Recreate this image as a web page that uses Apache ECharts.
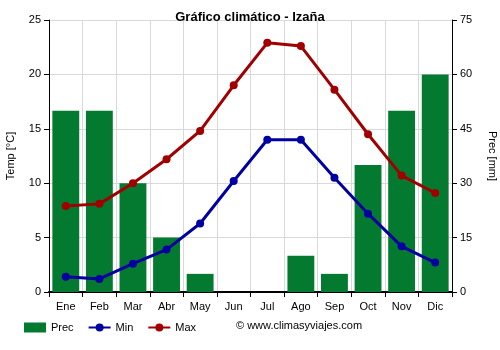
<!DOCTYPE html>
<html><head><meta charset="utf-8">
<script src="https://cdn.jsdelivr.net/npm/echarts@6/dist/echarts.min.js"></script>
<style>html,body{margin:0;padding:0;background:#fff}#c{width:500px;height:350px}</style>
</head><body><div id="c"></div>
<script>
const months = ['Ene','Feb','Mar','Abr','May','Jun','Jul','Ago','Sep','Oct','Nov','Dic'];
const prec = [50, 50, 30, 15, 5, 0, 0, 10, 5, 35, 50, 60];
const tmin = [1.4, 1.2, 2.6, 3.9, 6.3, 10.2, 14.0, 14.0, 10.5, 7.2, 4.2, 2.7];
const tmax = [7.9, 8.1, 10.0, 12.2, 14.8, 19.0, 22.9, 22.6, 18.6, 14.5, 10.7, 9.1];

const chart = echarts.init(document.getElementById('c'));
const font = 'Arial, "Liberation Sans", sans-serif';
chart.setOption({
  animation: false,
  textStyle: {fontFamily: font},
  title: {text: 'Gráfico climático - Izaña', left: 'center', top: 6,
    textStyle: {fontSize: 13, fontWeight: 'bold', color: '#000', fontFamily: font}},
  grid: {left: 49, right: 48, top: 20, bottom: 58, containLabel: false, outerBoundsMode: 'none'},
  legend: {
    left: 19, bottom: 12, itemGap: 14, itemWidth: 22, itemHeight: 10,
    textStyle: {fontSize: 11, color: '#000', fontFamily: font},
    data: [{name: 'Prec', icon: 'rect'}, {name: 'Min'}, {name: 'Max'}]
  },
  graphic: [{type: 'text', left: 236, top: 320,
    style: {text: '© www.climasyviajes.com', fontSize: 11, fill: '#000', fontFamily: font}}],
  xAxis: {
    type: 'category', data: months, boundaryGap: true,
    axisLine: {lineStyle: {color: '#000', width: 2}},
    axisTick: {show: true, alignWithLabel: false, lineStyle: {color: '#000'}},
    axisLabel: {color: '#000', fontSize: 11, margin: 9},
    splitLine: {show: true, lineStyle: {color: '#d9d9d9'}}
  },
  yAxis: [{
    type: 'value', min: 0, max: 25, interval: 5, name: 'Temp [°C]',
    nameLocation: 'middle', nameGap: 33, nameRotate: 90,
    nameTextStyle: {color: '#000', fontSize: 11},
    axisLine: {show: true, lineStyle: {color: '#000'}},
    axisTick: {show: true, lineStyle: {color: '#000'}},
    axisLabel: {color: '#000', fontSize: 11},
    splitLine: {lineStyle: {color: '#d9d9d9'}}
  }, {
    type: 'value', min: 0, max: 75, interval: 15, name: 'Prec [mm]',
    nameLocation: 'middle', nameGap: 35, nameRotate: -90,
    nameTextStyle: {color: '#000', fontSize: 11},
    axisLine: {show: true, lineStyle: {color: '#000'}},
    axisTick: {show: true, lineStyle: {color: '#000'}},
    axisLabel: {color: '#000', fontSize: 11},
    splitLine: {show: false}
  }],
  series: [
    {name: 'Prec', type: 'bar', yAxisIndex: 1, data: prec, barWidth: '80%',
      itemStyle: {color: '#047a30'}, z: 1},
    {name: 'Min', type: 'line', data: tmin, symbol: 'circle', symbolSize: 8,
      lineStyle: {color: '#0000a0', width: 3}, itemStyle: {color: '#0000a0'}, z: 3},
    {name: 'Max', type: 'line', data: tmax, symbol: 'circle', symbolSize: 8,
      lineStyle: {color: '#a00000', width: 3}, itemStyle: {color: '#a00000'}, z: 3}
  ]
});
</script></body></html>
